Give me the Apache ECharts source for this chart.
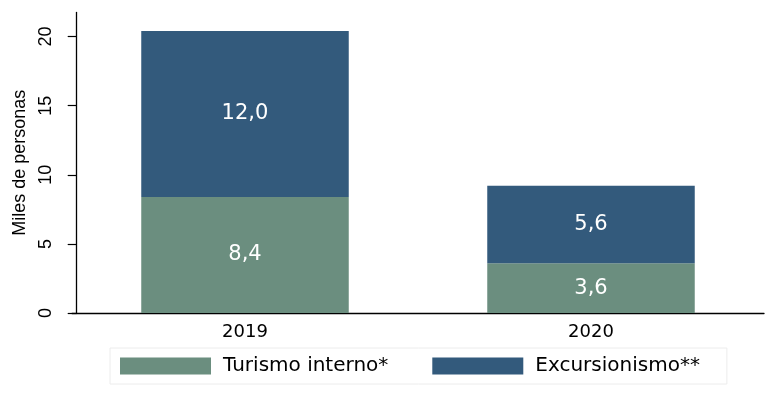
<!DOCTYPE html>
<html>
<head>
<meta charset="utf-8">
<script src="https://cdn.jsdelivr.net/npm/echarts@6/dist/echarts.min.js"></script>
<style>
  html, body { margin: 0; padding: 0; background: #ffffff; }
  #chart { width: 773px; height: 393px; }
</style>
</head>
<body>
<div id="chart"></div>
<script>
// Visitors (thousands of people) by type of trip
const years = ['2019', '2020'];
const turismoInterno = [8.4, 3.6];
const excursionismo = [12.0, 5.6];
const seriesNames = ['Turismo interno*', 'Excursionismo**'];
const yTicks = [0, 5, 10, 15, 20];
const yAxisTitle = 'Miles de personas';

const colorInterno = '#6b8e7f';
const colorExcursion = '#335a7c';

const fmt = v => v.toFixed(1).replace('.', ',');

const chart = echarts.init(document.getElementById('chart'), null, { renderer: 'canvas' });

const barLabel = {
  show: true,
  position: 'inside',
  color: '#ffffff',
  fontFamily: 'DejaVu Sans',
  fontSize: 21,
  formatter: p => fmt(p.value)
};

chart.setOption({
  animation: false,
  backgroundColor: '#ffffff',
  grid: { left: 72, right: 9, top: 12.4, bottom: 80 },
  legend: {
    left: 110,
    top: 348,
    orient: 'horizontal',
    itemWidth: 91,
    itemHeight: 17,
    itemGap: 44,
    padding: [8, 27, 8, 10],
    borderColor: '#ececec',
    borderWidth: 1,
    backgroundColor: '#ffffff',
    icon: 'rect',
    textStyle: {
      fontFamily: 'DejaVu Sans',
      fontSize: 20,
      color: '#000000',
      padding: [0, 0, 0, 7]
    },
    data: seriesNames
  },
  xAxis: {
    type: 'category',
    data: years,
    axisLine: { show: true, lineStyle: { color: '#000000', width: 1.3 } },
    axisTick: { show: false },
    axisLabel: {
      margin: 10,
      fontFamily: 'DejaVu Sans',
      fontSize: 18,
      color: '#000000'
    }
  },
  yAxis: {
    type: 'value',
    min: 0,
    max: 21.75,
    interval: 5,
    offset: -4.7,
    name: yAxisTitle,
    nameLocation: 'middle',
    nameGap: 39,
    nameTextStyle: {
      fontFamily: 'Liberation Sans',
      fontSize: 18,
      color: '#000000'
    },
    axisLine: { show: true, lineStyle: { color: '#000000', width: 1.3 } },
    axisTick: {
      show: true,
      length: 9,
      customValues: yTicks,
      lineStyle: { color: '#000000', width: 1.2 }
    },
    axisLabel: {
      rotate: 90,
      margin: 22,
      customValues: yTicks,
      fontFamily: 'Liberation Sans',
      fontSize: 18,
      color: '#000000'
    },
    splitLine: { show: false }
  },
  series: [
    {
      name: seriesNames[0],
      type: 'bar',
      stack: 'total',
      barWidth: 207.5,
      data: turismoInterno,
      itemStyle: { color: colorInterno },
      label: barLabel
    },
    {
      name: seriesNames[1],
      type: 'bar',
      stack: 'total',
      barWidth: 207.5,
      data: excursionismo,
      itemStyle: { color: colorExcursion },
      label: barLabel
    }
  ]
});
</script>
</body>
</html>
